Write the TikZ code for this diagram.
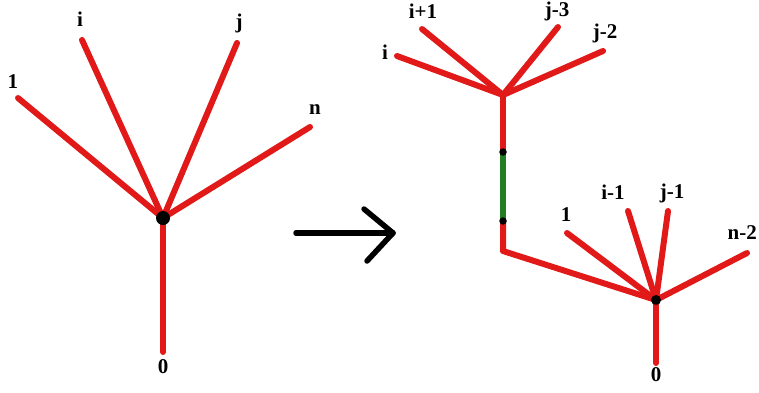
\documentclass[tikz,border=0pt]{standalone}
\usepackage{fontspec}
\setmainfont{Liberation Serif}
\definecolor{tred}{RGB}{225,25,25}
\definecolor{tgreen}{RGB}{35,125,35}
\begin{document}
\begin{tikzpicture}[x=1pt,y=-1pt,
  edge/.style={draw=tred,line width=6pt,line cap=round},
  gedge/.style={draw=tgreen,line width=6pt},
  arrowline/.style={draw=black,line width=5.5pt,line cap=round,line join=round},
  lbl/.style={font=\bfseries\fontsize{21}{21}\selectfont,inner sep=0pt,text height=1.6ex,text depth=0.3ex},
  vdot/.style={circle,fill=black,inner sep=0pt,minimum size=#1}]
\useasboundingbox (0,0) rectangle (759,392);
% ---------- left tree ----------
\coordinate (L) at (163,218);
\coordinate (L1) at (18,98);
\coordinate (Li) at (82,40);
\coordinate (Lj) at (237,43);
\coordinate (Ln) at (310,127);
\coordinate (L0) at (163,352);
\draw[edge] (L) -- (L1);
\draw[edge] (L) -- (Li);
\draw[edge] (L) -- (Lj);
\draw[edge] (L) -- (Ln);
\draw[edge] (L) -- (L0);
\node[vdot=14pt] (Ldot) at (L) {};
\node[lbl] (tL1) at (13,86) {1};
\node[lbl] (tLi) at (80,24) {i};
\node[lbl] (tLj) at (239,26) {j};
\node[lbl] (tLn) at (315,112) {n};
\node[lbl] (tL0) at (163,371) {0};
% ---------- arrow ----------
\coordinate (aS) at (296,233);
\coordinate (aE) at (393,233);
\coordinate (aU) at (364,209);
\coordinate (aD) at (367,261);
\draw[arrowline] (aS) -- (aE);
\draw[arrowline] (aU) -- (aE) -- (aD);
% ---------- right tree ----------
\coordinate (U) at (503,95);
\coordinate (Ui) at (397,56);
\coordinate (Uip) at (422,29);
\coordinate (Uj3) at (558,27);
\coordinate (Uj2) at (603,51);
\coordinate (G1) at (503,152);
\coordinate (G2) at (503,221);
\coordinate (C) at (503,251);
\coordinate (B) at (656,300);
\coordinate (B1) at (567,233);
\coordinate (Bi) at (628,211);
\coordinate (Bj) at (668,211);
\coordinate (Bn) at (747,253);
\coordinate (B0) at (656,363);
\draw[edge] (U) -- (Ui);
\draw[edge] (U) -- (Uip);
\draw[edge] (U) -- (Uj3);
\draw[edge] (U) -- (Uj2);
\draw[edge] (U) -- (G1);
\draw[gedge] (G1) -- (G2);
\draw[edge,line join=round] (G2) -- (C) -- (B);
\draw[edge] (B) -- (B1);
\draw[edge] (B) -- (Bi);
\draw[edge] (B) -- (Bj);
\draw[edge] (B) -- (Bn);
\draw[edge] (B) -- (B0);
\node[vdot=10pt] (Bdot) at (B) {};
\node[vdot=7.5pt] (G1dot) at (G1) {};
\node[vdot=7.5pt] (G2dot) at (G2) {};
\node[lbl] (tUi) at (385,57) {i};
\node[lbl] (tUip) at (423,16) {i+1};
\node[lbl] (tUj3) at (557,14) {j-3};
\node[lbl] (tUj2) at (605,36) {j-2};
\node[lbl] (tB1) at (566,219) {1};
\node[lbl] (tBi) at (613,197) {i-1};
\node[lbl] (tBj) at (672,196) {j-1};
\node[lbl,anchor=east] (tBn) at (757,237) {n-2};
\node[lbl] (tB0) at (656,379) {0};
\end{tikzpicture}
\end{document}
